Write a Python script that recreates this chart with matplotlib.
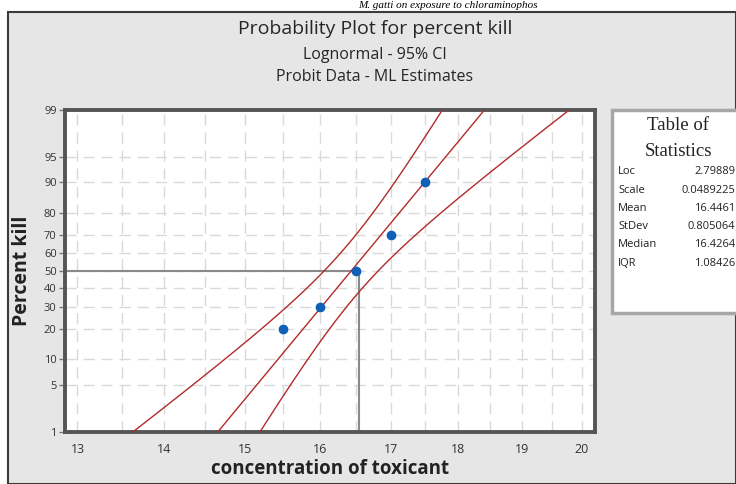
"""
Lognormal probability plot (probit data) for percent kill vs concentration.
"""
from statistics import NormalDist
import matplotlib
matplotlib.use("Agg")
import matplotlib.pyplot as plt
import matplotlib.patches as mpatches
import matplotlib.ticker
import numpy as np

# data
concentration = [15.5, 16.0, 16.5, 17.0, 17.5]
percent_kill = [20, 30, 50, 70, 90]

# fit (table of statistics) and rough confidence band shape
loc = 2.79889
scale = 0.0489225
ci_a = 0.05
ci_b = 15.0
ref_x = 16.53

stat_names = ["Loc", "Scale", "Mean", "StDev", "Median", "IQR"]
stat_values = ["2.79889", "0.0489225", "16.4461", "0.805064", "16.4264", "1.08426"]

x_ticks = [13, 14, 15, 16, 17, 18, 19, 20]
x_grid = [13.5, 14.5, 15.5, 16.5, 17.5, 18.5, 19.5]
y_ticks = [1, 5, 10, 20, 30, 40, 50, 60, 70, 80, 90, 95, 99]

W, H = 736, 484
nd = NormalDist()
_ppf = np.vectorize(lambda p: nd.inv_cdf(min(max(p / 100.0, 1e-9), 1 - 1e-9)), otypes=[float])
_cdf = np.vectorize(lambda z: 100.0 * nd.cdf(z), otypes=[float])


def fwd(p):
    return _ppf(np.asarray(p, dtype=float))


def inv(z):
    return _cdf(np.asarray(z, dtype=float))


def px(x, y):
    return x / W, 1 - y / H


fig = plt.figure(figsize=(W / 100, H / 100), dpi=100)
fig.patch.set_facecolor("white")

# grey panel with dark border (screenshot frame)
fig.patches.append(mpatches.Rectangle(px(8, 484), (W - 8) / W, (484 - 12) / H,
                                      transform=fig.transFigure, facecolor="#e6e6e6",
                                      edgecolor="#3a3a3a", linewidth=1.5, zorder=-5))
# caption line above the frame
fig.text(*px(448, 0.5), "M. gatti on exposure to chloraminophos", ha="center", va="top",
         family="Liberation Serif", fontsize=8, style="italic", zorder=-1)

fig.text(*px(375, 29), "Probability Plot for percent kill", ha="center", va="center",
         family="Open Sans", fontsize=14, color="#262626")
fig.text(*px(375, 55), "Lognormal - 95% CI", ha="center", va="center",
         family="Open Sans", fontsize=11.5, color="#262626")
fig.text(*px(375, 77), "Probit Data - ML Estimates", ha="center", va="center",
         family="Open Sans", fontsize=11.5, color="#262626")

ax = fig.add_axes([65 / W, 1 - 432 / H, 530 / W, 322 / H])
ax.set_zorder(1)
ax.set_facecolor("white")
ax.set_xscale("log")
ax.set_yscale("function", functions=(fwd, inv))
ax.set_xlim(12.862, 20.23)
ax.set_ylim(0.985, 99.0)

# grid
for xv in x_ticks + x_grid:
    ax.axvline(xv, color="#d9d9d9", lw=1, ls=(0, (8, 5)), zorder=1)
for yv in y_ticks[1:-1]:
    ax.axhline(yv, color="#d9d9d9", lw=1, ls=(0, (8, 5)), zorder=1)

# fitted line and confidence bounds
u = np.linspace(np.log(12.5), np.log(20.6), 400)
zc = (u - loc) / scale
s = np.sqrt(ci_a + ci_b * (u - loc) ** 2)
xs = np.exp(u)
red = "#b22a2a"
ax.plot(xs, inv(zc), color=red, lw=1.0, zorder=3)
ax.plot(xs, inv(zc + 1.96 * s), color=red, lw=1.0, zorder=3)
ax.plot(xs, inv(zc - 1.96 * s), color=red, lw=1.0, zorder=3)

# reference lines at 50 percent
ax.plot([12.862, ref_x], [50, 50], color="#8a8a8a", lw=1.5, zorder=2)
ax.plot([ref_x, ref_x], [50, 0.985], color="#8a8a8a", lw=1.5, zorder=2)

ax.plot(concentration, percent_kill, "o", color="#1060b8", ms=6, zorder=4)

ax.set_xticks(x_ticks)
ax.set_xticklabels([str(v) for v in x_ticks])
ax.xaxis.set_minor_locator(matplotlib.ticker.NullLocator())
ax.set_yticks(y_ticks)
ax.set_yticklabels([str(v) for v in y_ticks])
ax.yaxis.set_minor_locator(matplotlib.ticker.NullLocator())
ax.tick_params(axis="x", length=0, pad=8, labelsize=9, labelcolor="#333333")
ax.tick_params(axis="y", length=4, width=1, color="#777777", pad=2, labelsize=8,
               labelcolor="#333333")
for lab in ax.get_xticklabels() + ax.get_yticklabels():
    lab.set_family("Open Sans")
for sp in ax.spines.values():
    sp.set_color("#555555")
    sp.set_linewidth(2.8)

ax.set_xlabel("concentration of toxicant", fontsize=13.5, fontweight="bold",
              family="Open Sans", color="#222222", labelpad=2)
fig.text(*px(22, 271), "Percent kill", rotation=90, ha="center", va="center",
         fontsize=14, fontweight="bold", family="Open Sans", color="#222222")

# table of statistics
fig.patches.append(mpatches.Rectangle(px(612, 313), 140 / W, 203 / H,
                                      transform=fig.transFigure, facecolor="white",
                                      edgecolor="#a6a6a6", linewidth=2.5, zorder=1))
fig.text(*px(678, 125), "Table of", ha="center", va="center", family="Liberation Serif",
         fontsize=13.5, color="#222222", zorder=2)
fig.text(*px(678, 151), "Statistics", ha="center", va="center", family="Liberation Serif",
         fontsize=13.5, color="#222222", zorder=2)
for i, (name, val) in enumerate(zip(stat_names, stat_values)):
    y = 172 + i * 18.2
    fig.text(*px(618, y), name, ha="left", va="center", family="Open Sans",
             fontsize=8, color="#222222", zorder=2)
    fig.text(*px(735, y), val, ha="right", va="center", family="Open Sans",
             fontsize=8, color="#222222", zorder=2)

fig.savefig("out.png", dpi=100)
